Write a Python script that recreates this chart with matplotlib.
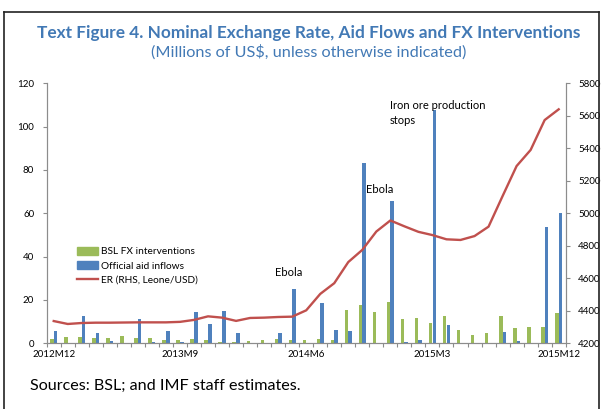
import matplotlib.pyplot as plt
from matplotlib.lines import Line2D
from matplotlib.patches import Patch

# monthly, 2012M12 .. 2015M12
months = [f"{y}M{m}" for y, m in [(2012, 12)] + [(y, m) for y in (2013, 2014, 2015) for m in range(1, 13)]]
tick_labels = ["2012M12", "2013M9", "2014M6", "2015M3", "2015M12"]

fx_interventions = [2.0, 3.1, 2.7, 2.3, 2.4, 3.2, 2.4, 2.4, 1.7, 1.7,
                    2.0, 1.5, 0.7, 0.6, 1.0, 1.3, 1.8, 1.4, 1.4, 2.1,
                    1.4, 15.3, 17.6, 14.5, 19.1, 11.4, 11.9, 9.6, 12.7, 6.0,
                    4.0, 4.9, 12.7, 7.0, 7.7, 7.7, 14.0]
aid_inflows = [5.8, 0.0, 12.4, 4.8, 1.2, 0.0, 11.0, 0.5, 5.5, 0.5,
               14.3, 9.1, 15.0, 4.7, 0.2, 0.0, 4.8, 25.0, 0.3, 18.4,
               6.0, 5.6, 83.4, 0.3, 65.8, 0.5, 1.3, 107.7, 8.6, 0.3,
               0.2, 0.3, 5.2, 0.9, 0.2, 53.5, 60.0]
exchange_rate = [4337, 4319, 4325, 4327, 4327, 4328, 4329, 4329, 4329, 4332,
                 4344, 4366, 4358, 4338, 4356, 4358, 4362, 4364, 4403, 4504,
                 4570, 4700, 4775, 4888, 4956, 4920, 4886, 4866, 4840, 4836,
                 4860, 4918, 5106, 5291, 5390, 5574, 5640]

GREEN = "#9bbb59"
BLUE = "#4f81bd"
RED = "#c0504d"
TITLE_BLUE = "#4279b5"
AXIS_GREY = "#8c8c8c"

plt.rcParams["font.family"] = ["Lato", "DejaVu Sans"]

fig = plt.figure(figsize=(6.02, 4.09), dpi=100)
ax = fig.add_axes([0.0776, 0.1606, 0.8621, 0.6357])
ax2 = ax.twinx()

x = list(range(len(months)))
ax.bar([i - 0.13 for i in x], fx_interventions, width=0.25, color=GREEN, zorder=2)
ax.bar([i + 0.13 for i in x], aid_inflows, width=0.25, color=BLUE, zorder=2)
ax2.plot(x, exchange_rate, color=RED, lw=1.7, solid_joinstyle="round")

ax.set_xlim(-0.5, len(months) - 0.5)
ax.set_ylim(0, 120)
ax.set_yticks(range(0, 121, 20))
ax2.set_ylim(4200, 5800)
ax2.set_yticks(range(4200, 5801, 200))

ax.set_xticks([i - 0.5 for i in range(len(months) + 1)])
ax.set_xticklabels([])
ax.set_xticks([months.index(t) for t in tick_labels], tick_labels, minor=True)
ax.tick_params(axis="x", which="major", length=3, color=AXIS_GREY)
ax.tick_params(axis="x", which="minor", length=0, pad=5, labelsize=7)
ax.tick_params(axis="y", length=3, color=AXIS_GREY, labelsize=7, pad=6)
ax2.tick_params(axis="y", length=3, color=AXIS_GREY, labelsize=7, pad=6)

for a in (ax, ax2):
    a.spines["top"].set_visible(False)
    for s in ("left", "right", "bottom"):
        a.spines[s].set_color(AXIS_GREY)
        a.spines[s].set_linewidth(0.8)

ax.text(16.77, 32.9, "Ebola", fontsize=8, ha="center", va="center")
ax.text(23.25, 71.2, "Ebola", fontsize=8, ha="center", va="center")
ax.text(23.95, 106.3, "Iron ore production\nstops", fontsize=8, ha="left", va="center",
        linespacing=1.45)

handles = [
    Patch(color=GREEN, label="BSL FX interventions"),
    Patch(color=BLUE, label="Official aid inflows"),
    Line2D([], [], color=RED, lw=1.7, label="ER (RHS, Leone/USD)"),
]
ax.legend(handles=handles, loc="upper left", bbox_to_anchor=(0.058, 0.37), frameon=False,
          fontsize=7.3, handlelength=2.1, handleheight=0.75, handletextpad=0.25,
          labelspacing=0.5, borderpad=0, borderaxespad=0)

fig.text(0.512, 1 - 33 / 409, "Text Figure 4. Nominal Exchange Rate, Aid Flows and FX Interventions",
         ha="center", va="center", fontsize=12.4, fontweight="bold", color=TITLE_BLUE)
fig.text(0.512, 1 - 52 / 409, "(Millions of US$, unless otherwise indicated)",
         ha="center", va="center", fontsize=11.7, color=TITLE_BLUE)
fig.text(30 / 602, 1 - 386 / 409, "Sources: BSL; and IMF staff estimates.",
         ha="left", va="center", fontsize=11.6, color="black")

# outer frame
fig.add_artist(Line2D([4 / 602, 4 / 602], [0, 1 - 12 / 409], color="#222222", lw=1.2))
fig.add_artist(Line2D([4 / 602, 599 / 602], [1 - 12 / 409, 1 - 12 / 409], color="#222222", lw=1.2))
fig.add_artist(Line2D([599 / 602, 599 / 602], [0, 1 - 12 / 409], color="#222222", lw=1.2))

fig.savefig("out.png", dpi=100)
